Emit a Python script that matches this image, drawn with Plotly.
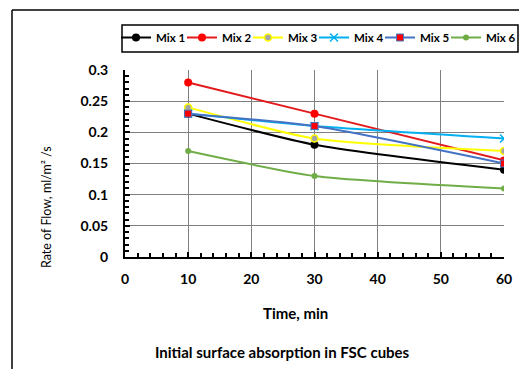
import plotly.graph_objects as go

time_min = [10, 30, 60]
mix1 = [0.23, 0.18, 0.14]
mix2 = [0.28, 0.23, 0.155]
mix3 = [0.24, 0.19, 0.17]
mix4 = [0.23, 0.21, 0.19]
mix5 = [0.23, 0.21, 0.15]
mix6 = [0.17, 0.13, 0.11]
names = ["Mix 1", "Mix 2", "Mix 3", "Mix 4", "Mix 5", "Mix 6"]
x_ticks = [0, 10, 20, 30, 40, 50, 60]
y_ticks = [0, 0.05, 0.1, 0.15, 0.2, 0.25, 0.3]
y_tick_text = ["0", "0.05", "0.1", "0.15", "0.2", "0.25", "0.3"]

FONT = "Lato"
W, H = 519, 369
L, R, T, B = 125, 15, 70, 112

styles = [
    dict(line=dict(color="#000000", width=2), marker=dict(symbol="circle", size=8, color="#000000")),
    dict(line=dict(color="#e31a1c", width=2), marker=dict(symbol="circle", size=8, color="#ff0000")),
    dict(line=dict(color="#ffff00", width=2), marker=dict(symbol="circle", size=7, color="#a5a5a5", line=dict(color="#ffff00", width=1.5))),
    dict(line=dict(color="#00b0f0", width=2), marker=dict(symbol="x-thin-open", size=8, color="#00b0f0", line=dict(color="#00b0f0", width=1.5))),
    dict(line=dict(color="#4472c4", width=2), marker=dict(symbol="square", size=7, color="#ff0000", line=dict(color="#4472c4", width=1))),
    dict(line=dict(color="#70ad47", width=2), marker=dict(symbol="circle", size=6, color="#70ad47")),
]
series = [mix1, mix2, mix3, mix4, mix5, mix6]

def px_x(px):
    return (px - L) / (W - L - R)

def px_y(py):
    return (H - B - py) / (H - T - B)

fig = go.Figure()
legend_layout = {}
for i, (name, ys, st) in enumerate(zip(names, series, styles)):
    lg = "legend" if i == 0 else f"legend{i + 1}"
    fig.add_trace(go.Scatter(
        x=time_min, y=ys, name=name, mode="lines+markers",
        line=dict(shape="spline", smoothing=0.6, **st["line"]),
        marker=st["marker"], legend=lg,
    ))
    legend_layout[lg] = dict(
        orientation="h", x=px_x(116 + 66 * i), y=px_y(23), xanchor="left", yanchor="top",
        borderwidth=0, bgcolor="rgba(0,0,0,0)",
        font=dict(family=FONT, size=11.5, color="#000000", weight="bold"),
        itemwidth=30,
    )

fig.update_layout(
    width=W, height=H,
    margin=dict(l=L, r=R, t=T, b=B, autoexpand=False),
    paper_bgcolor="white", plot_bgcolor="white",
    font=dict(family=FONT, size=13, color="#000000"),
    showlegend=True,
    **legend_layout,
    xaxis=dict(
        range=[0, 60], tickvals=x_ticks, ticktext=[str(v) for v in x_ticks],
        showgrid=True, gridcolor="#7f7f7f", gridwidth=1,
        showline=True, linecolor="#000000", linewidth=2,
        ticks="inside", ticklen=5, tickcolor="#000000", tickwidth=1.5,
        minor=dict(dtick=2, ticks="inside", ticklen=4, tickcolor="#000000", tickwidth=1.5, showgrid=False),
        tickfont=dict(family=FONT, size=14, weight="bold"),
        ticklabelstandoff=8, automargin=False,
        zeroline=False, fixedrange=True,
    ),
    yaxis=dict(
        range=[0, 0.3], tickvals=y_ticks, ticktext=y_tick_text,
        showgrid=True, gridcolor="#7f7f7f", gridwidth=1,
        showline=True, linecolor="#000000", linewidth=2,
        ticks="inside", ticklen=5, tickcolor="#000000", tickwidth=1.5,
        minor=dict(dtick=0.01, ticks="inside", ticklen=4, tickcolor="#000000", tickwidth=1.5, showgrid=False),
        tickfont=dict(family=FONT, size=14, weight="bold"),
        ticklabelstandoff=12, automargin=False,
        zeroline=False, fixedrange=True,
    ),
    annotations=[
        dict(text="<b>Time, min</b>", x=px_x(295), y=px_y(313), xref="paper", yref="paper",
             xanchor="center", yanchor="middle",
             showarrow=False, font=dict(family=FONT, size=15)),
        dict(text="<b>Initial surface absorption in FSC cubes</b>", x=px_x(282), y=px_y(352),
             xref="paper", yref="paper", xanchor="center", yanchor="middle",
             showarrow=False, font=dict(family=FONT, size=15)),
        dict(text="Rate of Flow, ml/m² /s", x=px_x(46), y=px_y(207), xref="paper", yref="paper",
             xanchor="center", yanchor="middle",
             showarrow=False, textangle=-90, font=dict(family=FONT, size=12.5)),
    ],
    shapes=[
        dict(type="line", xref="paper", yref="paper", x0=px_x(12), x1=px_x(519), y0=px_y(10), y1=px_y(10),
             line=dict(color="#000000", width=1.5)),
        dict(type="line", xref="paper", yref="paper", x0=px_x(12), x1=px_x(12), y0=px_y(10), y1=px_y(369),
             line=dict(color="#000000", width=1.5)),
        dict(type="rect", xref="paper", yref="paper", x0=px_x(122), x1=px_x(518), y0=px_y(25), y1=px_y(52),
             line=dict(color="#000000", width=1.5), fillcolor="white", layer="below"),
    ],
)

fig.write_html("out.html")
